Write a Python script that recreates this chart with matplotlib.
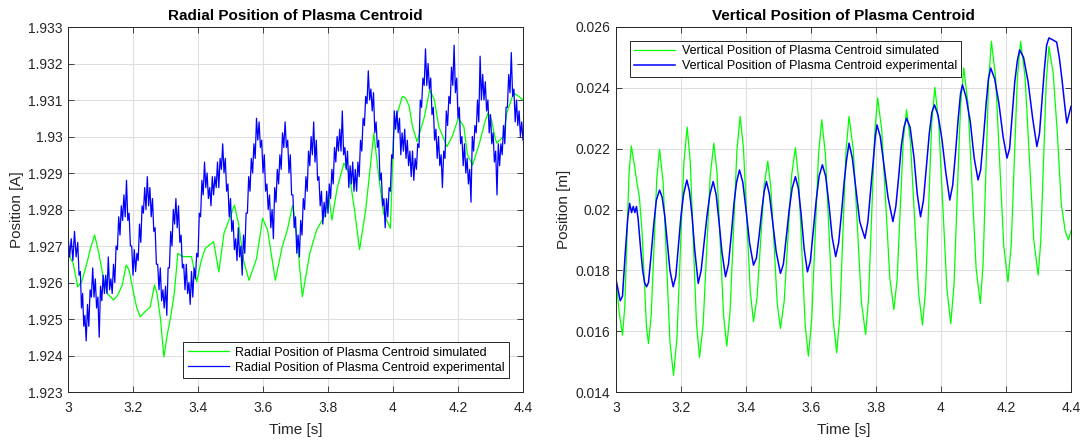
import matplotlib
matplotlib.use("Agg")
import matplotlib.pyplot as plt

plt.rcParams['font.family'] = ['Liberation Sans', 'DejaVu Sans']

# ---------------- data: radial position (left panel) ----------------
rad_sim_t = [3.000, 3.016, 3.030, 3.042, 3.058, 3.069, 3.082, 3.095, 3.108, 3.121,
             3.140, 3.153, 3.167, 3.179, 3.188, 3.200, 3.211, 3.222, 3.237, 3.253,
             3.266, 3.274, 3.285, 3.295, 3.306, 3.316, 3.327, 3.338, 3.353, 3.380,
             3.396, 3.410, 3.422, 3.448, 3.464, 3.480, 3.495, 3.512, 3.525, 3.540,
             3.557, 3.580, 3.599, 3.614, 3.638, 3.659, 3.675, 3.691, 3.705, 3.721,
             3.744, 3.765, 3.791, 3.802, 3.812, 3.828, 3.849, 3.865, 3.881, 3.897,
             3.916, 3.928, 3.941, 3.955, 3.971, 3.992, 4.002, 4.015, 4.029, 4.039,
             4.050, 4.060, 4.074, 4.097, 4.113, 4.127, 4.141, 4.166, 4.182, 4.201,
             4.218, 4.229, 4.245, 4.266, 4.282, 4.292, 4.303, 4.313, 4.319, 4.340,
             4.350, 4.371, 4.387, 4.400]
rad_sim_y = [1.92680, 1.92652, 1.92588, 1.92602, 1.92652, 1.92693, 1.92730, 1.92680, 1.92616, 1.92570,
             1.92552, 1.92565, 1.92593, 1.92648, 1.92634, 1.92579, 1.92533, 1.92506, 1.92520, 1.92533,
             1.92593, 1.92570, 1.92497, 1.92396, 1.92460, 1.92506, 1.92570, 1.92680, 1.92671, 1.92671,
             1.92602, 1.92660, 1.92693, 1.92712, 1.92629, 1.92735, 1.92770, 1.92812, 1.92760, 1.92661,
             1.92606, 1.92665, 1.92776, 1.92744, 1.92606, 1.92698, 1.92744, 1.92812, 1.92720, 1.92561,
             1.92680, 1.92744, 1.92785, 1.92840, 1.92771, 1.92858, 1.92927, 1.92899, 1.92803, 1.92690,
             1.92799, 1.92899, 1.93009, 1.92899, 1.92789, 1.92748, 1.93014, 1.93069, 1.93110, 1.93105,
             1.93082, 1.93027, 1.92986, 1.93055, 1.93128, 1.93101, 1.93027, 1.92972, 1.93000, 1.93050,
             1.93027, 1.92950, 1.92922, 1.92982, 1.93037, 1.93064, 1.93046, 1.93000, 1.92982, 1.93000,
             1.93064, 1.93119, 1.93110, 1.93100]

rad_exp_t = [3.000, 3.005, 3.010, 3.015, 3.020, 3.025, 3.030, 3.034, 3.038, 3.0415,
             3.045, 3.0485, 3.052, 3.056, 3.060, 3.064, 3.068, 3.072, 3.076, 3.080,
             3.084, 3.088, 3.092, 3.096, 3.100, 3.104, 3.108, 3.112, 3.116, 3.120,
             3.124, 3.128, 3.132, 3.136, 3.140, 3.144, 3.148, 3.152, 3.156, 3.160,
             3.164, 3.168, 3.172, 3.176, 3.180, 3.184, 3.188, 3.192, 3.196, 3.200,
             3.204, 3.208, 3.212, 3.216, 3.220, 3.224, 3.228, 3.232, 3.236, 3.240,
             3.244, 3.248, 3.252, 3.256, 3.260, 3.264, 3.268, 3.272, 3.276, 3.280,
             3.284, 3.288, 3.292, 3.296, 3.300, 3.304, 3.308, 3.312, 3.316, 3.320,
             3.324, 3.328, 3.332, 3.336, 3.340, 3.344, 3.348, 3.352, 3.356, 3.360,
             3.364, 3.368, 3.372, 3.376, 3.380, 3.384, 3.388, 3.392, 3.396, 3.400,
             3.404, 3.408, 3.412, 3.416, 3.420, 3.424, 3.428, 3.432, 3.436, 3.440,
             3.444, 3.448, 3.452, 3.456, 3.460, 3.464, 3.468, 3.472, 3.476, 3.480,
             3.484, 3.488, 3.492, 3.496, 3.500, 3.504, 3.508, 3.512, 3.516, 3.520,
             3.524, 3.528, 3.532, 3.536, 3.540, 3.544, 3.548, 3.552, 3.556, 3.560,
             3.564, 3.568, 3.572, 3.576, 3.580, 3.584, 3.588, 3.592, 3.596, 3.600,
             3.604, 3.608, 3.612, 3.616, 3.620, 3.624, 3.628, 3.632, 3.636, 3.640,
             3.644, 3.648, 3.652, 3.656, 3.660, 3.664, 3.668, 3.672, 3.676, 3.680,
             3.684, 3.688, 3.692, 3.696, 3.700, 3.704, 3.708, 3.712, 3.716, 3.720,
             3.724, 3.728, 3.732, 3.736, 3.740, 3.744, 3.748, 3.752, 3.756, 3.760,
             3.764, 3.768, 3.772, 3.776, 3.780, 3.784, 3.788, 3.792, 3.796, 3.800,
             3.804, 3.808, 3.812, 3.816, 3.820, 3.824, 3.828, 3.832, 3.836, 3.840,
             3.844, 3.848, 3.852, 3.856, 3.860, 3.864, 3.868, 3.872, 3.876, 3.880,
             3.884, 3.888, 3.892, 3.896, 3.900, 3.904, 3.908, 3.912, 3.916, 3.920,
             3.924, 3.928, 3.932, 3.936, 3.940, 3.944, 3.948, 3.952, 3.956, 3.960,
             3.964, 3.968, 3.972, 3.976, 3.980, 3.984, 3.988, 3.992, 3.996, 4.000,
             4.004, 4.008, 4.012, 4.016, 4.020, 4.024, 4.028, 4.032, 4.036, 4.040,
             4.044, 4.048, 4.052, 4.056, 4.060, 4.064, 4.068, 4.072, 4.076, 4.080,
             4.084, 4.088, 4.092, 4.096, 4.100, 4.104, 4.108, 4.112, 4.116, 4.120,
             4.124, 4.128, 4.132, 4.136, 4.140, 4.144, 4.148, 4.152, 4.156, 4.160,
             4.164, 4.168, 4.172, 4.176, 4.180, 4.184, 4.188, 4.192, 4.196, 4.200,
             4.204, 4.208, 4.212, 4.216, 4.220, 4.224, 4.228, 4.232, 4.236, 4.240,
             4.244, 4.248, 4.252, 4.256, 4.260, 4.264, 4.268, 4.272, 4.276, 4.280,
             4.284, 4.288, 4.292, 4.296, 4.300, 4.304, 4.308, 4.312, 4.316, 4.320,
             4.324, 4.328, 4.332, 4.336, 4.340, 4.344, 4.348, 4.352, 4.356, 4.360,
             4.364, 4.368, 4.372, 4.376, 4.380, 4.384, 4.388, 4.392, 4.396, 4.400]
rad_exp_y = [1.9273, 1.9267, 1.9272, 1.9266, 1.9274, 1.9267, 1.9271, 1.9262, 1.9263, 1.9253,
             1.9257, 1.9248, 1.9251, 1.9244, 1.9254, 1.9248, 1.9258, 1.9256, 1.9264, 1.9256,
             1.9261, 1.9253, 1.9256, 1.9245, 1.9259, 1.9255, 1.9262, 1.9257, 1.9262, 1.9257,
             1.9267, 1.9258, 1.9261, 1.9257, 1.9265, 1.9260, 1.9270, 1.9269, 1.9278, 1.9273,
             1.9281, 1.9277, 1.9284, 1.9278, 1.9288, 1.9277, 1.9279, 1.9270, 1.9270, 1.9262,
             1.9269, 1.9263, 1.9268, 1.9266, 1.9276, 1.9271, 1.9281, 1.9279, 1.9286, 1.9280,
             1.9289, 1.9281, 1.9286, 1.9278, 1.9283, 1.9274, 1.9275, 1.9265, 1.9265, 1.9258,
             1.9264, 1.9255, 1.9258, 1.9253, 1.9259, 1.9251, 1.9264, 1.9264, 1.9274, 1.9270,
             1.9280, 1.9276, 1.9283, 1.9275, 1.9281, 1.9271, 1.9273, 1.9264, 1.9265, 1.9258,
             1.9265, 1.9257, 1.9260, 1.9254, 1.9263, 1.9256, 1.9264, 1.9261, 1.9268, 1.9267,
             1.9279, 1.9278, 1.9288, 1.9284, 1.9293, 1.9286, 1.9290, 1.9283, 1.9286, 1.9281,
             1.9289, 1.9284, 1.9289, 1.9286, 1.9293, 1.9286, 1.9294, 1.9291, 1.9298, 1.9290,
             1.9294, 1.9285, 1.9287, 1.9278, 1.9283, 1.9274, 1.9277, 1.9269, 1.9272, 1.9266,
             1.9275, 1.9267, 1.9270, 1.9262, 1.9273, 1.9268, 1.9279, 1.9279, 1.9289, 1.9285,
             1.9294, 1.9290, 1.9298, 1.9294, 1.9305, 1.9299, 1.9304, 1.9297, 1.9299, 1.9290,
             1.9295, 1.9285, 1.9287, 1.9280, 1.9284, 1.9275, 1.9280, 1.9272, 1.9286, 1.9282,
             1.9291, 1.9287, 1.9295, 1.9291, 1.9301, 1.9297, 1.9304, 1.9297, 1.9299, 1.9290,
             1.9295, 1.9284, 1.9284, 1.9275, 1.9278, 1.9268, 1.9273, 1.9267, 1.9277, 1.9273,
             1.9283, 1.9280, 1.9289, 1.9285, 1.9296, 1.9292, 1.9300, 1.9295, 1.9304, 1.9293,
             1.9299, 1.9288, 1.9289, 1.9281, 1.9285, 1.9276, 1.9282, 1.9278, 1.9285, 1.9279,
             1.9287, 1.9283, 1.9291, 1.9287, 1.9297, 1.9293, 1.9300, 1.9296, 1.9302, 1.9296,
             1.9307, 1.9295, 1.9297, 1.9291, 1.9296, 1.9286, 1.9292, 1.9287, 1.9293, 1.9285,
             1.9291, 1.9285, 1.9293, 1.9289, 1.9299, 1.9296, 1.9305, 1.9303, 1.9311, 1.9309,
             1.9318, 1.9310, 1.9313, 1.9307, 1.9312, 1.9301, 1.9304, 1.9297, 1.9299, 1.9288,
             1.9290, 1.9281, 1.9283, 1.9275, 1.9283, 1.9278, 1.9286, 1.9285, 1.9295, 1.9294,
             1.9307, 1.9302, 1.9307, 1.9301, 1.9305, 1.9295, 1.9301, 1.9296, 1.9302, 1.9294,
             1.9299, 1.9292, 1.9296, 1.9289, 1.9296, 1.9288, 1.9294, 1.9291, 1.9298, 1.9297,
             1.9310, 1.9308, 1.9316, 1.9314, 1.9324, 1.9314, 1.9320, 1.9313, 1.9316, 1.9306,
             1.9308, 1.9299, 1.9302, 1.9294, 1.9300, 1.9292, 1.9295, 1.9286, 1.9296, 1.9294,
             1.9307, 1.9303, 1.9311, 1.9309, 1.9319, 1.9314, 1.9325, 1.9312, 1.9316, 1.9305,
             1.9308, 1.9298, 1.9300, 1.9292, 1.9298, 1.9290, 1.9294, 1.9287, 1.9291, 1.9282,
             1.9300, 1.9296, 1.9303, 1.9301, 1.9310, 1.9304, 1.9322, 1.9310, 1.9317, 1.9310,
             1.9315, 1.9307, 1.9310, 1.9301, 1.9306, 1.9298, 1.9301, 1.9293, 1.9296, 1.9284,
             1.9298, 1.9292, 1.9298, 1.9295, 1.9303, 1.9298, 1.9308, 1.9308, 1.9317, 1.9312,
             1.9323, 1.9311, 1.9313, 1.9304, 1.9310, 1.9303, 1.9307, 1.9300, 1.9304, 1.9299]

# ---------------- data: vertical position (right panel) ----------------
ver_sim_t = [3.000, 3.010, 3.020, 3.027, 3.0335, 3.040, 3.047, 3.056, 3.065, 3.072,
             3.080, 3.088, 3.094, 3.100, 3.1085, 3.117, 3.1255, 3.134, 3.145, 3.1555,
             3.166, 3.177, 3.1875, 3.198, 3.2085, 3.219, 3.2285, 3.238, 3.2475, 3.257,
             3.268, 3.279, 3.290, 3.301, 3.311, 3.321, 3.331, 3.341, 3.351, 3.3615,
             3.372, 3.382, 3.392, 3.4025, 3.413, 3.423, 3.434, 3.445, 3.456, 3.467,
             3.476, 3.4865, 3.496, 3.506, 3.5175, 3.529, 3.5405, 3.552, 3.562, 3.572,
             3.582, 3.592, 3.602, 3.6125, 3.623, 3.633, 3.6445, 3.656, 3.6675, 3.679,
             3.6885, 3.698, 3.7075, 3.717, 3.730, 3.7425, 3.755, 3.768, 3.777, 3.7865,
             3.796, 3.805, 3.8175, 3.830, 3.8425, 3.855, 3.865, 3.8745, 3.884, 3.894,
             3.906, 3.9185, 3.931, 3.943, 3.9525, 3.962, 3.9715, 3.981, 3.993, 4.0055,
             4.018, 4.030, 4.040, 4.050, 4.060, 4.070, 4.083, 4.0955, 4.108, 4.121,
             4.1295, 4.138, 4.1465, 4.155, 4.168, 4.1805, 4.193, 4.206, 4.216, 4.2255,
             4.235, 4.245, 4.2585, 4.272, 4.2855, 4.299, 4.307, 4.3155, 4.324, 4.332,
             4.345, 4.358, 4.370, 4.382, 4.392, 4.400]
ver_sim_y = [0.01768, 0.01660, 0.01587, 0.01680, 0.01898, 0.02116, 0.02209, 0.02150, 0.02085, 0.02040,
             0.01930, 0.01750, 0.01610, 0.01559, 0.01655, 0.01878, 0.02102, 0.02198, 0.02089, 0.01826,
             0.01564, 0.01455, 0.01577, 0.01863, 0.02149, 0.02271, 0.02157, 0.01892, 0.01627, 0.01513,
             0.01619, 0.01866, 0.02112, 0.02218, 0.02118, 0.01885, 0.01651, 0.01551, 0.01664, 0.01929,
             0.02193, 0.02306, 0.02205, 0.01969, 0.01732, 0.01631, 0.01710, 0.01895, 0.02080, 0.02159,
             0.02077, 0.01884, 0.01692, 0.01609, 0.01698, 0.01906, 0.02114, 0.02203, 0.02100, 0.01861,
             0.01621, 0.01518, 0.01635, 0.01907, 0.02178, 0.02295, 0.02180, 0.01912, 0.01644, 0.01529,
             0.01646, 0.01918, 0.02189, 0.02306, 0.02198, 0.01948, 0.01697, 0.01589, 0.01706, 0.01978,
             0.02250, 0.02367, 0.02263, 0.02019, 0.01775, 0.01671, 0.01770, 0.02000, 0.02229, 0.02328,
             0.02222, 0.01974, 0.01726, 0.01620, 0.01737, 0.02011, 0.02285, 0.02402, 0.02285, 0.02014,
             0.01742, 0.01625, 0.01751, 0.02045, 0.02339, 0.02465, 0.02349, 0.02078, 0.01807, 0.01691,
             0.01820, 0.02122, 0.02424, 0.02553, 0.02434, 0.02158, 0.01881, 0.01762, 0.01881, 0.02158,
             0.02434, 0.02553, 0.02438, 0.02169, 0.01899, 0.01784, 0.01897, 0.02160, 0.02423, 0.02536,
             0.02450, 0.02250, 0.02020, 0.01930, 0.01900, 0.01930]

ver_exp_t = [3.000, 3.013, 3.020, 3.028, 3.036, 3.042, 3.048, 3.053, 3.058, 3.063,
             3.068, 3.075, 3.082, 3.088, 3.094, 3.100, 3.108, 3.116, 3.124, 3.134,
             3.142, 3.150, 3.158, 3.166, 3.176, 3.184, 3.192, 3.200, 3.208, 3.218,
             3.226, 3.234, 3.242, 3.253, 3.262, 3.271, 3.280, 3.289, 3.299, 3.308,
             3.317, 3.326, 3.337, 3.346, 3.355, 3.363, 3.371, 3.380, 3.390, 3.400,
             3.411, 3.423, 3.432, 3.441, 3.449, 3.456, 3.463, 3.472, 3.482, 3.493,
             3.506, 3.515, 3.524, 3.533, 3.542, 3.552, 3.561, 3.570, 3.579, 3.589,
             3.598, 3.607, 3.616, 3.625, 3.635, 3.645, 3.655, 3.665, 3.676, 3.685,
             3.694, 3.702, 3.709, 3.717, 3.727, 3.738, 3.750, 3.766, 3.775, 3.784,
             3.792, 3.798, 3.803, 3.813, 3.824, 3.837, 3.852, 3.861, 3.870, 3.878,
             3.886, 3.894, 3.905, 3.917, 3.927, 3.937, 3.946, 3.955, 3.964, 3.972,
             3.980, 3.991, 4.003, 4.015, 4.027, 4.036, 4.045, 4.053, 4.060, 4.066,
             4.077, 4.090, 4.102, 4.114, 4.122, 4.131, 4.139, 4.146, 4.153, 4.165,
             4.178, 4.191, 4.203, 4.211, 4.219, 4.227, 4.235, 4.242, 4.254, 4.268,
             4.282, 4.295, 4.303, 4.311, 4.318, 4.325, 4.332, 4.340, 4.348, 4.356,
             4.364, 4.372, 4.380, 4.387, 4.393, 4.400]
ver_exp_y = [0.01770, 0.01700, 0.01715, 0.01850, 0.01970, 0.02020, 0.01990, 0.02010, 0.01990, 0.02010,
             0.01970, 0.01880, 0.01800, 0.01760, 0.01746, 0.01760, 0.01850, 0.01950, 0.02030, 0.02064,
             0.02040, 0.01980, 0.01890, 0.01800, 0.01746, 0.01780, 0.01880, 0.01980, 0.02050, 0.02097,
             0.02060, 0.01980, 0.01870, 0.01757, 0.01800, 0.01890, 0.01980, 0.02050, 0.02092, 0.02050,
             0.01960, 0.01860, 0.01779, 0.01820, 0.01920, 0.02020, 0.02090, 0.02130, 0.02090, 0.02000,
             0.01890, 0.01817, 0.01840, 0.01920, 0.02000, 0.02060, 0.02092, 0.02050, 0.01960, 0.01860,
             0.01790, 0.01820, 0.01910, 0.02000, 0.02070, 0.02108, 0.02070, 0.01980, 0.01870, 0.01795,
             0.01830, 0.01930, 0.02030, 0.02110, 0.02147, 0.02110, 0.02020, 0.01910, 0.01845, 0.01890,
             0.01990, 0.02090, 0.02160, 0.02218, 0.02170, 0.02070, 0.01960, 0.01905, 0.01960, 0.02070,
             0.02170, 0.02240, 0.02278, 0.02240, 0.02150, 0.02040, 0.01960, 0.02010, 0.02110, 0.02210,
             0.02270, 0.02300, 0.02270, 0.02170, 0.02050, 0.01976, 0.02030, 0.02140, 0.02250, 0.02320,
             0.02344, 0.02310, 0.02230, 0.02120, 0.02031, 0.02080, 0.02190, 0.02300, 0.02380, 0.02410,
             0.02370, 0.02290, 0.02170, 0.02097, 0.02130, 0.02240, 0.02350, 0.02430, 0.02465, 0.02430,
             0.02350, 0.02240, 0.02169, 0.02200, 0.02310, 0.02420, 0.02490, 0.02525, 0.02500, 0.02420,
             0.02300, 0.02207, 0.02250, 0.02360, 0.02460, 0.02540, 0.02564, 0.02560, 0.02555, 0.02550,
             0.02500, 0.02430, 0.02350, 0.02284, 0.02310, 0.02339]

x_ticks = [3.0, 3.2, 3.4, 3.6, 3.8, 4.0, 4.2, 4.4]
x_tick_labels = ['3', '3.2', '3.4', '3.6', '3.8', '4', '4.2', '4.4']
rad_ticks = [1.923, 1.924, 1.925, 1.926, 1.927, 1.928, 1.929, 1.930, 1.931, 1.932, 1.933]
rad_tick_labels = ['1.923', '1.924', '1.925', '1.926', '1.927', '1.928', '1.929', '1.93',
                   '1.931', '1.932', '1.933']
ver_ticks = [0.014, 0.016, 0.018, 0.020, 0.022, 0.024, 0.026]
ver_tick_labels = ['0.014', '0.016', '0.018', '0.02', '0.022', '0.024', '0.026']

# ---------------- figure ----------------
W, H = 1089, 444
fig = plt.figure(figsize=(W / 100, H / 100), dpi=100)
ax1 = fig.add_axes([68 / W, (H - 392) / H, 455 / W, 365 / H])
ax2 = fig.add_axes([616 / W, (H - 392) / H, 455 / W, 365 / H])

AXC = '#262626'
GREEN = '#00ff00'
BLUE = '#0000ff'


def style(ax, yticks, ylabels, ylim):
    ax.set_xlim(3.0, 4.4)
    ax.set_ylim(*ylim)
    ax.set_xticks(x_ticks)
    ax.set_xticklabels(x_tick_labels)
    ax.set_yticks(yticks)
    ax.set_yticklabels(ylabels)
    ax.grid(True, color='#dfdfdf', linewidth=0.8)
    ax.set_axisbelow(True)
    ax.tick_params(direction='in', length=4, width=0.6, colors=AXC,
                   labelsize=10, top=True, right=True)
    ax.tick_params(axis='x', pad=6.5)
    ax.tick_params(axis='y', pad=4)
    for s in ax.spines.values():
        s.set_color(AXC)
        s.set_linewidth(0.7)
    ax.set_xlabel('Time [s]', fontsize=11, color=AXC, labelpad=6)


ax1.plot(rad_sim_t, rad_sim_y, color=GREEN, lw=0.9,
         label='Radial Position of Plasma Centroid simulated')
ax1.plot(rad_exp_t, rad_exp_y, color=BLUE, lw=0.9,
         label='Radial Position of Plasma Centroid experimental')
style(ax1, rad_ticks, rad_tick_labels, (1.923, 1.933))
ax1.set_ylabel('Position [A]', fontsize=11, color=AXC, labelpad=3)
ax1.set_title('Radial Position of Plasma Centroid', fontsize=11, fontweight='bold', pad=5)
leg1 = ax1.legend(loc='lower right', bbox_to_anchor=(0.970, 0.038), borderaxespad=0,
                  fontsize=9, fancybox=False, framealpha=1, edgecolor=AXC,
                  handlelength=3.3, handletextpad=0.5, labelspacing=0.25, borderpad=0.35)
leg1.get_frame().set_linewidth(0.7)

ax2.plot(ver_sim_t, ver_sim_y, color=GREEN, lw=0.9,
         label='Vertical Position of Plasma Centroid simulated')
ax2.plot(ver_exp_t, ver_exp_y, color=BLUE, lw=1.1,
         label='Vertical Position of Plasma Centroid experimental')
style(ax2, ver_ticks, ver_tick_labels, (0.014, 0.026))
ax2.set_ylabel('Position [m]', fontsize=11, color=AXC, labelpad=3)
ax2.set_title('Vertical Position of Plasma Centroid', fontsize=11, fontweight='bold', pad=5)
leg2 = ax2.legend(loc='upper left', bbox_to_anchor=(0.030, 0.9625), borderaxespad=0,
                  fontsize=9, fancybox=False, framealpha=1, edgecolor=AXC,
                  handlelength=3.3, handletextpad=0.5, labelspacing=0.25, borderpad=0.35)
leg2.get_frame().set_linewidth(0.7)

fig.savefig('out.png', dpi=100)
